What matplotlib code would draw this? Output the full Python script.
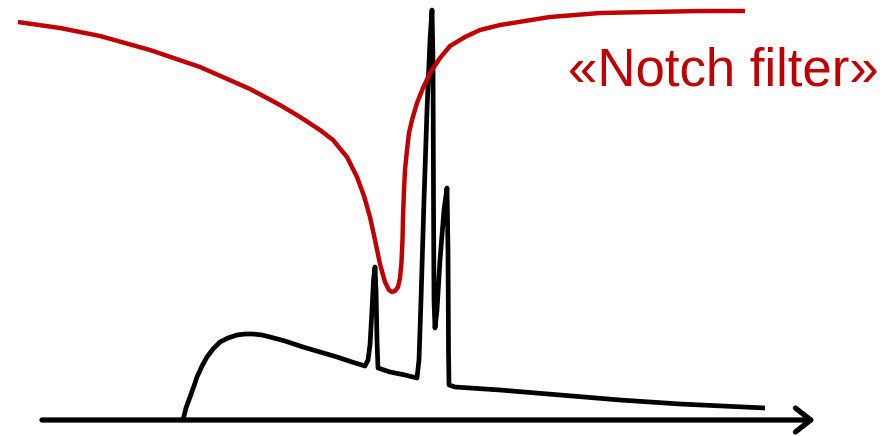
import matplotlib.pyplot as plt

# spectrum (black) in pixel units
spec_x = [183, 186, 190, 194, 197, 202, 207, 213, 220, 228, 237, 245, 253, 262, 270, 285,
          303, 320, 337, 352, 365,
          368, 370, 372, 373.5, 375, 376, 377, 378, 390, 405, 417,
          419, 421, 424, 427, 430, 432, 433, 433.5, 434, 435,
          437, 440, 444, 447, 448, 448.5, 449, 455, 500, 560, 620, 680, 765]
spec_y = [420, 408, 397, 386, 377, 366, 357, 349, 342, 338, 335, 334, 334, 335, 337, 341,
          347, 352, 357, 362, 366,
          360, 345, 310, 280, 267, 290, 340, 368, 372, 375, 378,
          360, 300, 200, 110, 40, 10, 60, 200, 300, 328,
          310, 260, 210, 188, 250, 350, 385, 387, 390, 395, 400, 404, 408]

# notch filter transmission (red)
filt_x = [18, 60, 100, 150, 200, 250, 280, 300, 320, 333, 347, 357, 364, 370, 375, 380,
          385, 389, 392, 395, 398, 400, 401.5, 402.5, 403, 404, 405, 407, 409, 412, 417,
          423, 430, 440, 450, 465, 480, 500, 550, 600, 650, 700, 745]
filt_y = [22, 28, 36, 50, 67, 89, 105, 117, 130, 140, 157, 177, 196, 217, 240, 264,
          282, 290, 292, 291, 287, 278, 262, 240, 217, 190, 170, 150, 133, 120, 103,
          88, 73, 58, 46, 37, 30, 25, 17, 13, 12, 11, 11]

label = "«Notch filter»"

fig = plt.figure(figsize=(8.95, 4.36), dpi=100)
ax = fig.add_axes([0, 0, 1, 1])
ax.set_xlim(0, 895)
ax.set_ylim(436, 0)
ax.axis('off')

ax.plot(spec_x, spec_y, color='black', lw=3.4, solid_joinstyle='round', solid_capstyle='butt')
ax.plot(filt_x, filt_y, color='#C00000', lw=3.2, solid_joinstyle='round', solid_capstyle='butt')

# x axis arrow
ax.annotate('', xy=(815, 420), xytext=(42, 420),
            arrowprops=dict(arrowstyle='->,head_length=0.55,head_width=0.43',
                            mutation_scale=20, lw=3.8, color='black',
                            shrinkA=0, shrinkB=0))

ax.text(723, 72, label, color='#C00000', fontsize=38, family='Liberation Sans',
        ha='center', va='center')

fig.savefig('out.png', dpi=100)
